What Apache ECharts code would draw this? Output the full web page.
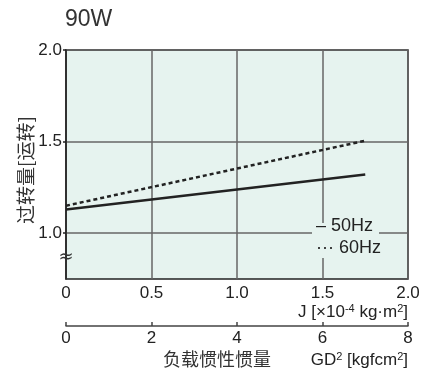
<!DOCTYPE html>
<html><head><meta charset="utf-8">
<script src="https://cdn.jsdelivr.net/npm/echarts@6/dist/echarts.min.js"></script>
<style>html,body{margin:0;padding:0;background:#fff}#c{width:438px;height:376px}</style>
</head><body><div id="c"></div>
<script>
const xJ = [0, 1.75];
const hz50 = [1.13, 1.32];
const hz60 = [1.15, 1.505];
const yTicks = [1.0, 1.5, 2.0];
const xTicks = [0, 0.5, 1.0, 1.5, 2.0];
const gdTicks = [0, 2, 4, 6, 8];
const FONT = 'Liberation Sans, Arial, sans-serif';
const CJK = 'Noto Sans CJK SC, sans-serif';

const chart = echarts.init(document.getElementById('c'));
chart.setOption({
  animation: false,
  grid: {left: 66, right: 30, top: 50, bottom: 97, show: true, backgroundColor: '#e6f3ef', borderColor: '#222', borderWidth: 1.5},
  xAxis: [{
    type: 'value', min: 0, max: 2, interval: 0.5,
    axisLine: {show: false}, axisTick: {show: false},
    axisLabel: {color: '#222', fontSize: 17, fontFamily: FONT, margin: 6, formatter: v => v === 0 ? '0' : v.toFixed(1)},
    splitLine: {show: true, lineStyle: {color: '#666', width: 1.5}}
  }, {
    type: 'value', min: 0, max: 8, interval: 2, position: 'bottom', offset: 47,
    axisLine: {show: true, lineStyle: {color: '#444', width: 1.5}},
    axisTick: {show: true, inside: true, length: 4, lineStyle: {color: '#444', width: 1.5}},
    axisLabel: {color: '#222', fontSize: 17, fontFamily: FONT, margin: 4},
    splitLine: {show: false}
  }],
  yAxis: {
    type: 'value', min: 0.75, max: 2.0,
    axisLine: {show: true, lineStyle: {color: '#222', width: 1.5}},
    axisTick: {show: true, length: 3, customValues: yTicks, lineStyle: {color: '#222', width: 1.5}},
    axisLabel: {customValues: yTicks, color: '#222', fontSize: 17, fontFamily: FONT, margin: 4, formatter: v => v.toFixed(1)},
    splitLine: {show: true, lineStyle: {color: '#666', width: 1.5}}
  },
  series: [{
    type: 'line', xAxisIndex: 0, data: xJ.map((x, i) => [x, hz50[i]]),
    symbol: 'none', lineStyle: {color: '#222', width: 2.5}, z: 5
  }, {
    type: 'line', xAxisIndex: 0, data: xJ.map((x, i) => [x, hz60[i]]),
    symbol: 'none', lineStyle: {color: '#222', width: 2.5, type: [4, 3]}, z: 5
  }],
  graphic: [
    {type: 'text', left: 65, top: 8, style: {text: '90W', fontSize: 23, fontFamily: FONT, fill: '#333'}},
    {type: 'text', x: 26, y: 170, rotation: Math.PI / 2, style: {text: '过转量[运转]', fontSize: 19, fontFamily: CJK, fill: '#333', align: 'center', verticalAlign: 'middle'}},
    {type: 'text', x: 66, y: 257, style: {text: '≈', fontSize: 18, fontFamily: 'DejaVu Sans', fill: '#333', align: 'center', verticalAlign: 'middle'}, z: 50},
    {type: 'rect', shape: {x: 312, y: 223, width: 67, height: 35}, style: {fill: '#e6f3ef'}, z: 50},
    {type: 'text', x: 316, y: 226, style: {text: '– 50Hz', fontSize: 18, fontFamily: FONT, fill: '#222', verticalAlign: 'middle'}, z: 51},
    {type: 'text', x: 316, y: 248, style: {text: '··· 60Hz', fontSize: 18, fontFamily: FONT, fill: '#222', verticalAlign: 'middle'}, z: 51},
    {type: 'text', right: 30, top: 303, style: {text: 'J [×10{s|-4} kg·m{s|2}]', fontSize: 17, fontFamily: FONT, fill: '#222', rich: {s: {fontSize: 11, verticalAlign: 'top', padding: [0, 0, 8, 0], fontFamily: FONT, fill: '#222'}}}, z: 51},
    {type: 'text', left: 163, top: 350, style: {text: '负载惯性惯量', fontSize: 18, fontFamily: CJK, fill: '#333'}},
    {type: 'text', right: 30, top: 351, style: {text: 'GD{s|2} [kgfcm{s|2}]', fontSize: 17, fontFamily: FONT, fill: '#222', rich: {s: {fontSize: 11, verticalAlign: 'top', padding: [0, 0, 8, 0], fontFamily: FONT, fill: '#222'}}}}
  ]
});
</script></body></html>
